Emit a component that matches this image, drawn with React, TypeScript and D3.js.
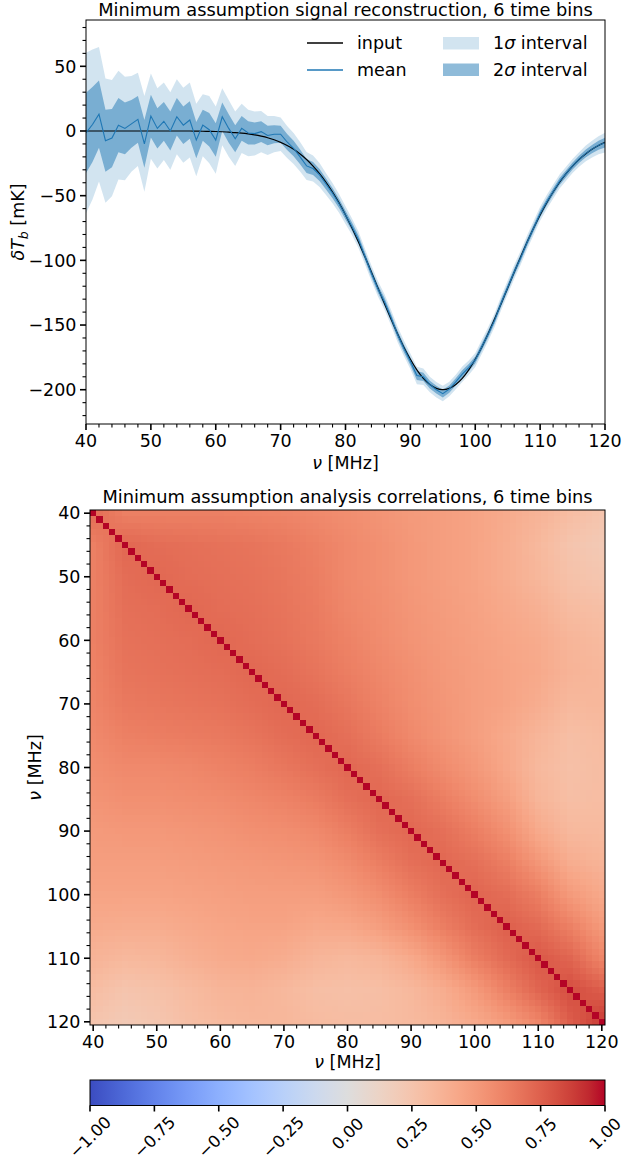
import React from 'react';
import * as d3 from 'd3';

// Frequency channels (MHz)
const FREQ = d3.range(40, 121);

// Input 21-cm signal (mK) at each channel
const INPUT = [
  0, 0, 0, 0, 0, 0, 0, 0, 0, 0,
  0, 0, 0, 0, 0, 0, 0, -0.1, -0.2, -0.3,
  -0.4, -0.6, -0.9, -1.2, -1.6, -2.2, -3.0, -4.0, -5.2, -6.8,
  -8.8, -11.2, -14.2, -17.8, -22.0, -27.1, -32.9, -39.6, -47.2, -55.6,
  -64.9, -75.0, -85.9, -97.3, -109.2, -121.3, -133.4, -145.2, -156.5, -167.1,
  -176.5, -184.6, -191.2, -196.0, -199.0, -200.0, -199.0, -196.0, -191.2, -184.6,
  -176.5, -167.1, -156.5, -145.2, -133.4, -121.3, -109.2, -97.3, -85.9, -75.0,
  -64.9, -55.6, -47.2, -39.6, -32.9, -27.1, -22.0, -17.8, -14.2, -11.2,
  -8.8,
];

// Posterior mean of the reconstruction (mK)
const MEAN = [
  -1.5, 5, 13, -7.5, -5.5, 4.5, 2, 5.5, 9, -10,
  11.5, 2, 7.5, 0, 11, 4.5, 8.5, -7, 4.5, 1,
  -7, 11, 2, -6, 2, -1.5, -2, -0.5, -3.5, -2.5,
  -2.5, -8.5, -13.5, -20, -27, -29, -34, -41, -48, -56,
  -65, -74, -84, -97, -110, -122, -132, -144, -157, -168,
  -178, -189, -190, -196, -200, -203, -199.5, -194, -188, -183,
  -177, -167, -157, -146, -133, -121, -109, -98, -86, -75,
  -64, -55, -47, -39, -33, -27, -22, -17.5, -14, -11,
  -9,
];

// Posterior standard deviation (mK)
const SIGMA = [
  31, 29, 26, 24, 22.5, 21, 20, 18.5, 18, 18.5,
  16.5, 15.5, 15, 15, 14.5, 14.5, 14.5, 14, 12, 13,
  13, 11, 11, 10.5, 9.5, 9, 8.5, 8, 7.5, 7,
  6.5, 6.2, 6, 5.7, 5.4, 5, 4.6, 4.2, 3.9, 3.6,
  3.4, 3.2, 3.2, 3, 3, 3, 3, 3, 3, 3,
  3, 3.4, 3.2, 3, 3, 3, 2.8, 2.8, 3, 2.8,
  2.7, 2.7, 2.7, 2.7, 2.7, 2.7, 2.7, 2.7, 2.7, 2.7,
  2.7, 2.7, 2.7, 2.7, 2.7, 2.7, 2.8, 3, 3.2, 3.5,
  3.8,
];

const X_TICKS = [40, 50, 60, 70, 80, 90, 100, 110, 120];
const Y_TICKS = [50, 0, -50, -100, -150, -200];
const CB_TICKS = [-1, -0.75, -0.5, -0.25, 0, 0.25, 0.5, 0.75, 1];

// Correlation field sampled every 5 MHz (lower triangle, row >= column);
// the diagonal entries hold the value just off the diagonal.
const CORR_NODES = [40, 45, 50, 55, 60, 65, 70, 75, 80, 85, 90, 95, 100, 105, 110, 115, 120];
const CORR_GRID = [
  [0.70],
  [0.62, 0.72],
  [0.62, 0.70, 0.72],
  [0.62, 0.69, 0.70, 0.72],
  [0.62, 0.68, 0.69, 0.70, 0.72],
  [0.61, 0.67, 0.68, 0.69, 0.70, 0.72],
  [0.60, 0.65, 0.66, 0.67, 0.68, 0.70, 0.72],
  [0.58, 0.62, 0.63, 0.64, 0.65, 0.67, 0.70, 0.72],
  [0.56, 0.58, 0.58, 0.59, 0.61, 0.63, 0.66, 0.69, 0.72],
  [0.53, 0.55, 0.55, 0.56, 0.57, 0.59, 0.61, 0.64, 0.69, 0.72],
  [0.50, 0.51, 0.51, 0.52, 0.53, 0.55, 0.56, 0.58, 0.63, 0.69, 0.72],
  [0.48, 0.48, 0.48, 0.49, 0.50, 0.51, 0.52, 0.53, 0.57, 0.63, 0.69, 0.72],
  [0.45, 0.45, 0.45, 0.46, 0.47, 0.48, 0.48, 0.48, 0.51, 0.56, 0.63, 0.69, 0.73],
  [0.41, 0.40, 0.40, 0.42, 0.44, 0.45, 0.45, 0.42, 0.43, 0.48, 0.55, 0.63, 0.70, 0.75],
  [0.36, 0.33, 0.34, 0.38, 0.41, 0.42, 0.40, 0.35, 0.33, 0.35, 0.42, 0.52, 0.63, 0.71, 0.78],
  [0.30, 0.25, 0.27, 0.31, 0.35, 0.36, 0.33, 0.29, 0.28, 0.29, 0.33, 0.40, 0.50, 0.62, 0.73, 0.82],
  [0.25, 0.21, 0.24, 0.29, 0.32, 0.34, 0.34, 0.31, 0.30, 0.30, 0.32, 0.36, 0.42, 0.50, 0.60, 0.76, 0.88],
];

// Moreland cool-warm diverging map, 33 control points
const COOLWARM = [
  [59, 76, 192], [68, 90, 204], [77, 104, 215], [87, 117, 225], [98, 130, 234],
  [108, 142, 241], [119, 154, 247], [130, 165, 251], [141, 176, 254], [152, 185, 255],
  [163, 194, 255], [174, 201, 253], [184, 208, 249], [194, 213, 244], [204, 217, 238],
  [213, 219, 230], [221, 221, 221], [229, 216, 209], [236, 211, 197], [241, 204, 185],
  [245, 196, 173], [247, 187, 160], [247, 177, 148], [247, 166, 135], [244, 154, 123],
  [241, 141, 111], [236, 127, 99], [229, 112, 88], [222, 96, 77], [213, 80, 66],
  [203, 62, 56], [192, 40, 47], [180, 4, 38],
];

const FONT = '"DejaVu Sans", sans-serif';
const C0 = '#1f77b4';
const FS = 17.5;

const gridAt = (i: number, j: number) => (i >= j ? CORR_GRID[i][j] : CORR_GRID[j][i]);

function corrValue(r: number, c: number): number {
  if (r === c) return 1;
  const step = CORR_NODES[1] - CORR_NODES[0];
  const n = CORR_NODES.length - 1;
  const fr = (r - CORR_NODES[0]) / step;
  const fc = (c - CORR_NODES[0]) / step;
  const i0 = Math.min(Math.floor(fr), n - 1);
  const j0 = Math.min(Math.floor(fc), n - 1);
  const tr = fr - i0;
  const tc = fc - j0;
  const a = gridAt(i0, j0);
  const b = gridAt(i0, j0 + 1);
  const d = gridAt(i0 + 1, j0);
  const e = gridAt(i0 + 1, j0 + 1);
  return (1 - tr) * ((1 - tc) * a + tc * b) + tr * ((1 - tc) * d + tc * e);
}

const minus = (s: string) => s.replace('-', '\u2212');

export default function App() {
  const W = 624;
  const H = 1161;

  // ---- top panel: signal reconstruction ----
  const L1 = 86, R1 = 605, T1 = 20, B1 = 424;
  const x1 = d3.scaleLinear().domain([40, 120]).range([L1, R1]);
  const y1 = d3.scaleLinear().domain([-226.5, 85.8]).range([B1, T1]);

  const idx = FREQ.map((_, i) => i);
  const band = (k: number) =>
    d3.area<number>()
      .x((i) => x1(FREQ[i]))
      .y0((i) => y1(MEAN[i] - k * SIGMA[i]))
      .y1((i) => y1(MEAN[i] + k * SIGMA[i]))(idx) || '';
  const meanPath = d3.line<number>().x((i) => x1(FREQ[i])).y((i) => y1(MEAN[i]))(idx) || '';
  const inputPath = d3.line<number>()
    .x((i) => x1(FREQ[i]))
    .y((i) => y1(INPUT[i]))
    .curve(d3.curveMonotoneX)(idx) || '';

  const xMinor1 = d3.range(40, 121, 2).filter((v) => v % 10 !== 0);
  const yMinor1 = d3.range(-220, 81, 10).filter((v) => v % 50 !== 0);

  // ---- bottom panel: correlation matrix ----
  const L2 = 90, R2 = 605, T2 = 510, B2 = 1025;
  const x2 = d3.scaleLinear().domain([39.5, 120.5]).range([L2, R2]);
  const y2 = d3.scaleLinear().domain([39.5, 120.5]).range([T2, B2]);
  const cell = x2(41) - x2(40);

  const color = d3.scaleLinear<string>()
    .domain(COOLWARM.map((_, i) => -1 + (2 * i) / (COOLWARM.length - 1)))
    .range(COOLWARM.map(([r, g, b]) => `rgb(${r},${g},${b})`))
    .interpolate(d3.interpolateRgb)
    .clamp(true);

  const minor2 = d3.range(40, 121, 2).filter((v) => v % 10 !== 0);

  // ---- colour bar ----
  const CL = 90, CR = 605, CT = 1080, CB = 1105.5;
  const xc = d3.scaleLinear().domain([-1, 1]).range([CL, CR]);

  const majorW = 1.6, minorW = 1.1, majorL = 6, minorL = 3.5;

  return (
    <svg width={W} height={H} style={{ display: 'block', position: 'absolute', left: 0, top: 0 }} fontFamily={FONT}>
      <rect x={0} y={0} width={W} height={H} fill="white" />

      {/* ===== signal reconstruction ===== */}
      <text x={(L1 + R1) / 2} y={16} fontSize={17.8} textAnchor="middle">
        Minimum assumption signal reconstruction, 6 time bins
      </text>
      <defs>
        <clipPath id="clip1">
          <rect x={L1} y={T1} width={R1 - L1} height={B1 - T1} />
        </clipPath>
      </defs>
      <g clipPath="url(#clip1)">
        <path d={band(2)} fill={C0} fillOpacity={0.2} />
        <path d={band(1)} fill={C0} fillOpacity={0.5} />
        <path d={inputPath} fill="none" stroke="black" strokeWidth={1.2} />
        <path d={meanPath} fill="none" stroke={C0} strokeWidth={1.1} />
      </g>
      <rect x={L1} y={T1} width={R1 - L1} height={B1 - T1} fill="none" stroke="black" strokeWidth={1} />

      {/* legend */}
      <line x1={307} x2={343} y1={43} y2={43} stroke="black" strokeWidth={1.3} />
      <text x={357} y={49} fontSize={FS}>input</text>
      <line x1={307} x2={343} y1={70} y2={70} stroke={C0} strokeWidth={1.5} />
      <text x={357} y={75.5} fontSize={FS}>mean</text>
      <rect x={443} y={37} width={36} height={12.5} fill={C0} fillOpacity={0.2} />
      <text x={493} y={49} fontSize={FS}>1<tspan fontStyle="italic">σ</tspan> interval</text>
      <rect x={443} y={63.5} width={36} height={12.5} fill={C0} fillOpacity={0.5} />
      <text x={493} y={75.5} fontSize={FS}>2<tspan fontStyle="italic">σ</tspan> interval</text>

      {/* x axis */}
      {X_TICKS.map((t) => (
        <g key={`x1${t}`}>
          <line x1={x1(t)} x2={x1(t)} y1={B1} y2={B1 + majorL} stroke="black" strokeWidth={majorW} />
          <text x={x1(t)} y={B1 + 22.5} fontSize={FS} textAnchor="middle">{t}</text>
        </g>
      ))}
      {xMinor1.map((t) => (
        <line key={`xm1${t}`} x1={x1(t)} x2={x1(t)} y1={B1} y2={B1 + minorL} stroke="black" strokeWidth={minorW} />
      ))}
      <text x={(L1 + R1) / 2} y={469} fontSize={FS} textAnchor="middle">
        <tspan fontStyle="italic">ν</tspan> [MHz]
      </text>

      {/* y axis */}
      {Y_TICKS.map((t) => (
        <g key={`y1${t}`}>
          <line x1={L1 - majorL} x2={L1} y1={y1(t)} y2={y1(t)} stroke="black" strokeWidth={majorW} />
          <text x={L1 - 9.5} y={y1(t)} dy="0.36em" fontSize={FS} textAnchor="end">{minus(String(t))}</text>
        </g>
      ))}
      {yMinor1.map((t) => (
        <line key={`ym1${t}`} x1={L1 - minorL} x2={L1} y1={y1(t)} y2={y1(t)} stroke="black" strokeWidth={minorW} />
      ))}
      <text transform={`translate(24, ${(T1 + B1) / 2}) rotate(-90)`} fontSize={FS} textAnchor="middle">
        <tspan fontStyle="italic">δT</tspan>
        <tspan fontStyle="italic" fontSize={12.5} dy={4}>b</tspan>
        <tspan dy={-4}> [mK]</tspan>
      </text>

      {/* ===== correlation matrix ===== */}
      <text x={(L2 + R2) / 2} y={503} fontSize={17.8} textAnchor="middle">
        Minimum assumption analysis correlations, 6 time bins
      </text>
      <g shapeRendering="crispEdges">
        {FREQ.map((r) =>
          FREQ.map((c) => (
            <rect
              key={`c${r}_${c}`}
              x={x2(c - 0.5)}
              y={y2(r - 0.5)}
              width={cell + 0.4}
              height={cell + 0.4}
              fill={color(corrValue(r, c))}
            />
          ))
        )}
      </g>
      <rect x={L2} y={T2} width={R2 - L2} height={B2 - T2} fill="none" stroke="black" strokeWidth={1} />

      {X_TICKS.map((t) => (
        <g key={`x2${t}`}>
          <line x1={x2(t)} x2={x2(t)} y1={B2} y2={B2 + majorL} stroke="black" strokeWidth={majorW} />
          <text x={x2(t)} y={B2 + 22.5} fontSize={FS} textAnchor="middle">{t}</text>
          <line x1={L2 - majorL} x2={L2} y1={y2(t)} y2={y2(t)} stroke="black" strokeWidth={majorW} />
          <text x={L2 - 9.5} y={y2(t)} dy="0.36em" fontSize={FS} textAnchor="end">{t}</text>
        </g>
      ))}
      {minor2.map((t) => (
        <g key={`m2${t}`}>
          <line x1={x2(t)} x2={x2(t)} y1={B2} y2={B2 + minorL} stroke="black" strokeWidth={minorW} />
          <line x1={L2 - minorL} x2={L2} y1={y2(t)} y2={y2(t)} stroke="black" strokeWidth={minorW} />
        </g>
      ))}
      <text x={(L2 + R2) / 2} y={1068} fontSize={FS} textAnchor="middle">
        <tspan fontStyle="italic">ν</tspan> [MHz]
      </text>
      <text transform={`translate(41, ${(T2 + B2) / 2}) rotate(-90)`} fontSize={FS} textAnchor="middle">
        <tspan fontStyle="italic">ν</tspan> [MHz]
      </text>

      {/* ===== colour bar ===== */}
      <defs>
        <linearGradient id="cw" x1="0" x2="1" y1="0" y2="0">
          {COOLWARM.map(([r, g, b], i) => (
            <stop key={i} offset={`${(100 * i) / (COOLWARM.length - 1)}%`} stopColor={`rgb(${r},${g},${b})`} />
          ))}
        </linearGradient>
      </defs>
      <rect x={CL} y={CT} width={CR - CL} height={CB - CT} fill="url(#cw)" stroke="black" strokeWidth={1} />
      {CB_TICKS.map((t) => {
        const label = minus(t.toFixed(2));
        return (
          <g key={`cb${t}`}>
            <line x1={xc(t)} x2={xc(t)} y1={CB} y2={CB + majorL} stroke="black" strokeWidth={majorW} />
            <text
              transform={`translate(${xc(t)}, ${CB + 10 + (label.length * 9.5 + 13) * 0.354}) rotate(-45)`}
              fontSize={16.5}
              textAnchor="middle"
              dy="0.36em"
            >
              {label}
            </text>
          </g>
        );
      })}
    </svg>
  );
}
